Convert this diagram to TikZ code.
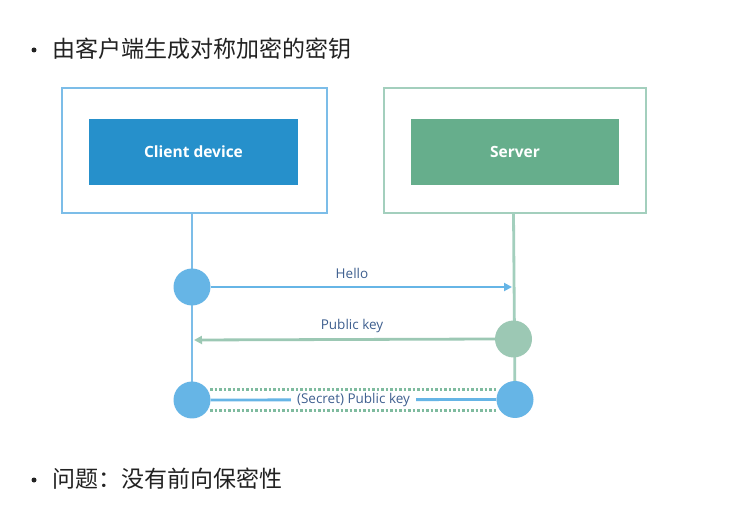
\documentclass[tikz,border=0pt]{standalone}
\usepackage{fontspec}
\setmainfont{Open Sans}
\newfontfamily\cjkfont{Noto Sans CJK SC}
\usetikzlibrary{arrows.meta,backgrounds}
\definecolor{cliOuter}{HTML}{7CBDE8}
\definecolor{cliInner}{HTML}{2690CB}
\definecolor{cliDot}{HTML}{66B5E6}
\definecolor{srvOuter}{HTML}{A3CFBD}
\definecolor{srvInner}{HTML}{66AE8C}
\definecolor{srvDot}{HTML}{9CC8B4}
\definecolor{dotLine}{HTML}{7FBB9F}
\definecolor{lbl}{HTML}{3E5F8F}
\definecolor{txt}{HTML}{222222}
\tikzset{
  outerbox/.style={draw, line width=2.5pt, minimum width=#1, minimum height=125pt, inner sep=0pt},
  innerbox/.style={minimum width=208pt, minimum height=66pt, inner sep=0pt, text=white, font=\fontsize{15.5}{18}\selectfont\bfseries},
  dotnode/.style={circle, minimum size=37pt, inner sep=0pt, fill=#1},
  msg/.style={font=\fontsize{13.5}{16}\selectfont, text=lbl, inner sep=1pt},
  bigtext/.style={font=\fontsize{23}{27}\selectfont\cjkfont, text=txt, anchor=west, inner sep=0pt},
  tip/.style={-{Triangle[length=8pt,width=8pt]}},
  seqline/.style={line width=2.8pt},
}
\begin{document}
\begin{tikzpicture}[x=1pt,y=-1pt]
\useasboundingbox (0,0) rectangle (740,505);

% bullets
\node[circle, fill=txt, minimum size=5pt, inner sep=0pt] (b1) at (34,50) {};
\node[bigtext] (t1) at (52,49) {由客户端生成对称加密的密钥};
\node[circle, fill=txt, minimum size=5pt, inner sep=0pt] (b2) at (34,480) {};
\node[bigtext] (t2) at (52,479) {问题：没有前向保密性};

% boxes
\node[outerbox=265pt, draw=cliOuter] (cOut) at (194.5,150.5) {};
\node[innerbox, fill=cliInner, minimum width=209pt] (cIn) at (193.5,152) {Client device};
\node[outerbox=262pt, draw=srvOuter] (sOut) at (515,150.5) {};
\node[innerbox, fill=srvInner] (sIn) at (515,152) {Server};

% lifeline tops
\coordinate (cTop) at (192,213);
\coordinate (sTop) at (513.5,213);

% circles
\node[dotnode=cliDot] (c1) at (192,287) {};
\node[dotnode=srvDot] (s2) at (513.5,339) {};
\node[dotnode=cliDot] (c3) at (192,400) {};
\node[dotnode=cliDot] (s3) at (515,399.5) {};

\begin{scope}[on background layer]
\fill[white] (0,0) rectangle (740,505);
\draw[seqline, cliOuter] (cTop) -- (c3.center);
\draw[seqline, srvOuter] (sTop) -- (s3.center);
\end{scope}

% Hello
\coordinate (helloEnd) at (512,287);
\draw[seqline, cliDot, tip] (c1.east) -- (helloEnd);
\node[msg] (lHello) at (352,273) {Hello};

% Public key
\coordinate (pkEnd) at (194,340);
\draw[seqline, srvDot, tip] (s2.west) -- (pkEnd);
\node[msg] (lPk) at (352,326) {Public key};

% Secret
\coordinate (d1a) at (210,389.5);
\coordinate (d1b) at (497,389.5);
\coordinate (d2a) at (210,410.5);
\coordinate (d2b) at (497,410.5);
\draw[line width=2.5pt, dotLine, dash pattern=on 2.5pt off 2pt] (d1a) -- (d1b);
\draw[line width=2.5pt, dotLine, dash pattern=on 2.5pt off 2pt] (d2a) -- (d2b);
\draw[seqline, cliDot] (c3.east) -- (s3.west)
  node[msg, midway, fill=white, inner xsep=6pt] (lSec) {(Secret) Public key};
\end{tikzpicture}
\end{document}
